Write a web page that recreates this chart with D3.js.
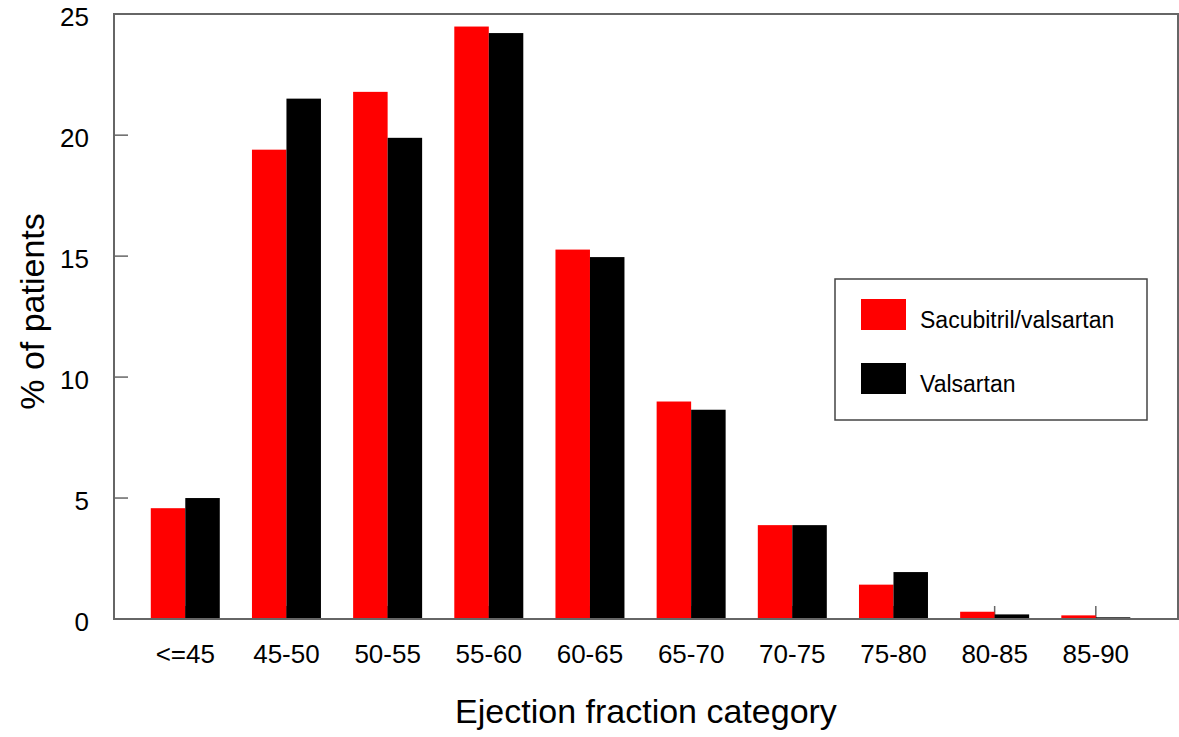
<!DOCTYPE html>
<html>
<head>
<meta charset="utf-8">
<script src="https://cdn.jsdelivr.net/npm/d3@7"></script>
<style>
  html, body { margin: 0; padding: 0; background: #fff; }
  svg { display: block; font-family: "Liberation Sans", Arial, Helvetica, sans-serif; }
</style>
</head>
<body>
<svg id="chart" width="1179" height="737"></svg>
<script>
const categories = ["<=45", "45-50", "50-55", "55-60", "60-65", "65-70", "70-75", "75-80", "80-85", "85-90"];
const seriesNames = ["Sacubitril/valsartan", "Valsartan"];
const sacubitrilValsartan = [4.58, 19.40, 21.79, 24.49, 15.27, 8.99, 3.88, 1.42, 0.30, 0.15];
const valsartan = [5.00, 21.51, 19.89, 24.22, 14.96, 8.65, 3.88, 1.94, 0.19, 0.07];
const yTicks = [0, 5, 10, 15, 20, 25];
const colors = ["#ff0000", "#000000"];

const svg = d3.select("#chart");
const frame = { left: 114, right: 1178, top: 14, bottom: 619 };

const y = d3.scaleLinear().domain([0, 25]).range([619, 14.2]);
const pInner = 0.318;
const x = d3.scaleBand().domain(categories).range([134.7, 1146.4])
  .paddingInner(pInner).paddingOuter(pInner / 2);
const xs = d3.scaleBand().domain(seriesNames).range([0, x.bandwidth()]).padding(0);

const seriesValues = [sacubitrilValsartan, valsartan];

// x ticks (inside, pointing up), drawn behind bars
svg.append("g").selectAll("line").data(categories).join("line")
  .attr("x1", d => x(d) + x.bandwidth() / 2)
  .attr("x2", d => x(d) + x.bandwidth() / 2)
  .attr("y1", y(0)).attr("y2", y(0) - 13)
  .attr("stroke", "#666").attr("stroke-width", 1.5);

// bars
const groups = svg.append("g").selectAll("g").data(categories).join("g")
  .attr("transform", d => `translate(${x(d)},0)`);
groups.selectAll("rect")
  .data((d, i) => seriesNames.map((s, k) => ({ s, k, v: seriesValues[k][i] })))
  .join("rect")
  .attr("x", d => xs(d.s))
  .attr("width", xs.bandwidth())
  .attr("y", d => y(d.v))
  .attr("height", d => y(0) - y(d.v))
  .attr("fill", d => colors[d.k]);

// y ticks (inside, pointing right)
const yAxis = svg.append("g");
yAxis.selectAll("line").data(yTicks).join("line")
  .attr("x1", frame.left).attr("x2", frame.left + 14)
  .attr("y1", d => y(d)).attr("y2", d => y(d))
  .attr("stroke", "#666").attr("stroke-width", 1.5);
yAxis.selectAll("text").data(yTicks).join("text")
  .attr("x", 89).attr("y", d => y(d) + 12)
  .attr("text-anchor", "end")
  .attr("font-size", 26).attr("fill", "#000")
  .text(d => d);

// x tick labels
svg.append("g").selectAll("text").data(categories).join("text")
  .attr("x", d => x(d) + x.bandwidth() / 2)
  .attr("y", 663)
  .attr("text-anchor", "middle")
  .attr("font-size", 26).attr("fill", "#000")
  .text(d => d);

// frame
svg.append("rect")
  .attr("x", frame.left).attr("y", frame.top)
  .attr("width", frame.right - frame.left).attr("height", frame.bottom - frame.top)
  .attr("fill", "none").attr("stroke", "#666").attr("stroke-width", 2);

// axis titles
svg.append("text")
  .attr("x", (frame.left + frame.right) / 2).attr("y", 723)
  .attr("text-anchor", "middle").attr("font-size", 34).attr("fill", "#000")
  .text("Ejection fraction category");
svg.append("text")
  .attr("transform", `translate(44,${(frame.top + frame.bottom) / 2 - 5}) rotate(-90)`)
  .attr("text-anchor", "middle").attr("font-size", 34).attr("fill", "#000")
  .text("% of patients");

// legend
const lg = svg.append("g");
lg.append("rect").attr("x", 835).attr("y", 279).attr("width", 312).attr("height", 141)
  .attr("fill", "#fff").attr("stroke", "#444").attr("stroke-width", 1.5);
const legendRows = lg.selectAll("g.row").data(seriesNames).join("g")
  .attr("class", "row")
  .attr("transform", (d, i) => `translate(861,${299 + i * 64})`);
legendRows.append("rect").attr("width", 45).attr("height", 31)
  .attr("fill", (d, i) => colors[i]);
legendRows.append("text").attr("x", 59).attr("y", 29)
  .attr("font-size", 23).attr("fill", "#000")
  .text(d => d);
</script>
</body>
</html>
